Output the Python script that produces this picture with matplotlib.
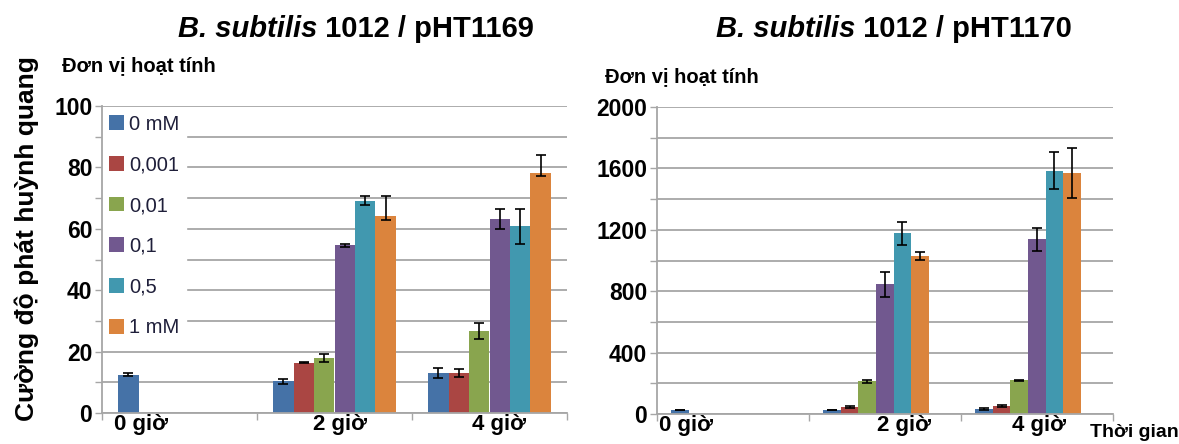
import numpy as np
import matplotlib
matplotlib.use('Agg')
import matplotlib.pyplot as plt

plt.rcParams['font.family'] = ['Liberation Sans', 'DejaVu Sans']
plt.rcParams['font.weight'] = 'bold'

nan = np.nan

times = ['0 giờ', '2 giờ', '4 giờ']
conc_labels = ['0 mM', '0,001', '0,01', '0,1', '0,5', '1 mM']
colors = ['#4572A7', '#AA4643', '#89A54E', '#71588F', '#4198AF', '#DB843D']

# pHT1169 - rows are concentrations, columns are 0 / 2 / 4 gio
val_1169 = [
    [12.5, 10.4, 13.0],
    [nan, 16.4, 13.0],
    [nan, 17.9, 26.7],
    [nan, 54.6, 63.2],
    [nan, 69.2, 60.8],
    [nan, 64.1, 78.2],
]
err_lo_1169 = [
    [0.4, 0.8, 1.7],
    [0, 0.2, 1.4],
    [0, 1.2, 2.5],
    [0, 0.6, 3.3],
    [0, 1.4, 5.6],
    [0, 1.1, 1.1],
]
err_hi_1169 = [
    [0.4, 0.8, 1.7],
    [0, 0.2, 1.4],
    [0, 1.2, 2.5],
    [0, 0.6, 3.3],
    [0, 1.4, 5.6],
    [0, 6.5, 5.7],
]

# pHT1170
val_1170 = [
    [26, 26, 32],
    [nan, 45, 52],
    [nan, 212, 219],
    [nan, 845, 1138],
    [nan, 1177, 1586],
    [nan, 1029, 1571],
]
err_1170 = [
    [3, 3, 5],
    [0, 5, 5],
    [0, 10, 4],
    [0, 83, 76],
    [0, 76, 121],
    [0, 28, 164],
]

W, H = 1179, 444
fig = plt.figure(figsize=(W / 100, H / 100), dpi=100)
grid_col = '#A6A6A6'


def draw_panel(ax, vals, lo, hi, width, shift, ymax, step, label_pos):
    n = len(vals)
    x = np.arange(len(times))
    for i in range(n):
        xi = x + shift + (i - (n - 1) / 2) * width
        v = np.array(vals[i], float)
        m = ~np.isnan(v)
        ax.bar(xi[m], v[m], width, color=colors[i], label=conc_labels[i], zorder=3)
        ax.errorbar(xi[m], v[m], yerr=[np.array(lo[i])[m], np.array(hi[i])[m]],
                    fmt='none', ecolor='black', elinewidth=1.2, capsize=3.5,
                    capthick=1.2, zorder=4)
    ax.set_xlim(-0.5, 2.5)
    ax.set_ylim(0, ymax)
    ax.set_yticks(np.arange(0, ymax + 1, 2 * step))
    ax.set_yticks(np.arange(step, ymax, 2 * step), minor=True)
    ax.grid(axis='y', which='both', color=grid_col, lw=1.3)
    ax.set_axisbelow(True)
    ax.tick_params(axis='y', which='both', direction='out', length=5, width=1,
                   color=grid_col, pad=2, labelsize=16.5)
    ax.set_xticks(label_pos, times)
    ax.set_xticks([-0.5, 0.5, 1.5, 2.5], minor=True)
    ax.tick_params(axis='x', which='major', length=0, pad=1, labelsize=16)
    ax.tick_params(axis='x', which='minor', length=5, width=1, color=grid_col)
    for s in ['top', 'right']:
        ax.spines[s].set_visible(False)
    for s in ['left', 'bottom']:
        ax.spines[s].set_color(grid_col)
        ax.spines[s].set_linewidth(1.3)
        ax.spines[s].set_zorder(6)


ax1 = fig.add_axes([102 / W, 31 / H, 465 / W, 307 / H])
draw_panel(ax1, val_1169, err_lo_1169, err_hi_1169, 0.132, 0.0, 100, 10,
           [-0.247, 1.033, 2.06])
leg = ax1.legend(loc='upper left', bbox_to_anchor=(0.0, 0.995), frameon=True,
                 facecolor='white', edgecolor='white', framealpha=1, fancybox=False,
                 prop={'weight': 'normal', 'size': 14.5}, labelspacing=1.08,
                 handlelength=0.75, handleheight=0.75, handletextpad=0.25,
                 borderpad=0.35, borderaxespad=0)
for t in leg.get_texts():
    t.set_color('#1F1F3A')

ax2 = fig.add_axes([657 / W, 30 / H, 456 / W, 307 / H])
draw_panel(ax2, val_1170, err_1170, err_1170, 0.116, -0.059, 2000, 200,
           [-0.307, 1.125, 2.01])

renderer = fig.canvas.get_renderer()


def two_part_title(cx, base_y, italic_part, rest, size=21):
    t1 = fig.text(0, 1 - base_y / H, italic_part, style='italic', fontsize=size,
                  va='baseline', ha='left')
    t2 = fig.text(0, 1 - base_y / H, ' ' + rest, fontsize=size,
                  va='baseline', ha='left')
    w1 = t1.get_window_extent(renderer).width
    w2 = t2.get_window_extent(renderer).width
    left = cx - (w1 + w2) / 2
    t1.set_x(left / W)
    t2.set_x((left + w1) / W)


two_part_title(356, 37, 'B. subtilis', '1012 / pHT1169')
two_part_title(894, 37, 'B. subtilis', '1012 / pHT1170')

fig.text(62 / W, 1 - 71 / H, 'Đơn vị hoạt tính', fontsize=14.5, va='baseline')
fig.text(605 / W, 1 - 82 / H, 'Đơn vị hoạt tính', fontsize=14.5, va='baseline')
fig.text(27 / W, 1 - 239 / H, 'Cường độ phát huỳnh quang', rotation=90,
         fontsize=19, ha='center', va='center')
fig.text(1090 / W, 1 - 432 / H, 'Thời gian', fontsize=14, ha='left', va='center')

fig.savefig('out.png', dpi=100)
